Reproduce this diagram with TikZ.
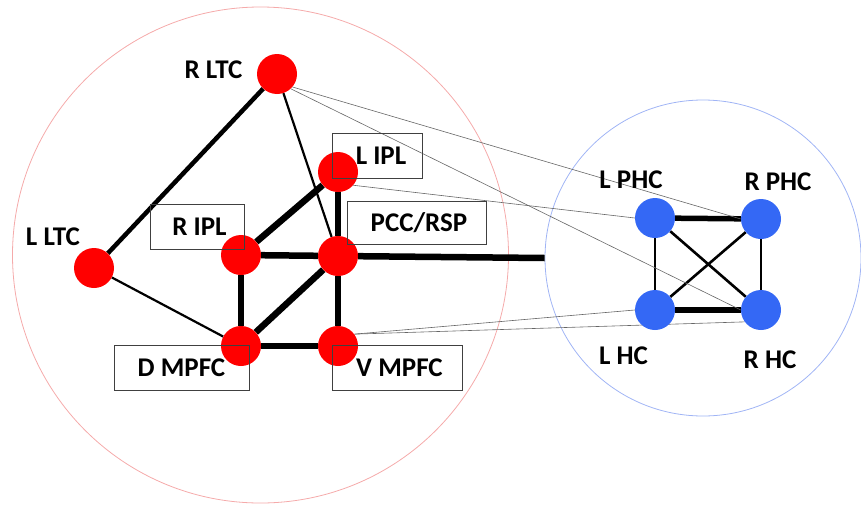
\documentclass[tikz,border=0pt]{standalone}
\usepackage{fontspec}
\setmainfont{Carlito}
\pgfdeclarelayer{back}
\pgfdeclarelayer{edges}
\pgfdeclarelayer{front}
\pgfsetlayers{back,edges,main,front}
\definecolor{dmnred}{RGB}{255,0,0}
\definecolor{mtlblue}{RGB}{52,104,245}
\definecolor{ringred}{RGB}{245,170,170}
\definecolor{ringblue}{RGB}{160,180,245}

\begin{document}
\begin{tikzpicture}[x=1pt,y=-1pt,
  hubred/.style={circle,fill=dmnred,minimum size=40pt,inner sep=0pt},
  hubblue/.style={circle,fill=mtlblue,minimum size=40pt,inner sep=0pt},
  lbl/.style={font=\bfseries\fontsize{27}{27}\selectfont,inner sep=0pt,
              text height=17.4pt,text depth=0pt},
  lblbox/.style={lbl,draw=black!75,line width=0.9pt},
  ring/.style={circle,line width=0.8pt,inner sep=0pt},
  strong/.style={line width=6.5pt},
  solid link/.style={line width=4.5pt},
  medium/.style={line width=2.2pt},
  faint/.style={line width=0.6pt,draw=black!60},
  bluestrong/.style={line width=5.5pt},
  bluemedium/.style={line width=2.6pt},
]
\useasboundingbox (0,0) rectangle (861,506);

% the two network circles
\begin{pgfonlayer}{back}
  \node[ring,draw=ringred,minimum size=496pt] (dmn) at (260.5,255) {};
  \node[ring,draw=ringblue,minimum size=316pt] (mtl) at (703,258) {};
\end{pgfonlayer}

% default-mode regions
\node[hubred] (rltc)  at (277,74)  {};
\node[hubred] (lltc)  at (94,268)  {};
\node[hubred] (lipl)  at (338,172) {};
\node[hubred] (ripl)  at (241,255) {};
\node[hubred] (pcc)   at (338,256) {};
\node[hubred] (dmpfc) at (241,346) {};
\node[hubred] (vmpfc) at (338,346) {};

% medial temporal regions
\node[hubblue] (lphc) at (655,218) {};
\node[hubblue] (rphc) at (761,219) {};
\node[hubblue] (lhc)  at (655,310) {};
\node[hubblue] (rhc)  at (761,310) {};

% connections
\begin{pgfonlayer}{edges}
  \draw[solid link] (rltc) -- (lltc);
  \draw[medium] (rltc) -- (pcc);
  \draw[medium] (lltc) -- (dmpfc);
  \draw[strong] (lipl) -- (ripl);
  \draw[strong] (lipl) -- (pcc);
  \draw[strong] (ripl) -- (pcc);
  \draw[strong] (ripl) -- (dmpfc);
  \draw[strong] (pcc) -- (dmpfc);
  \draw[strong] (pcc) -- (vmpfc);
  \draw[strong] (dmpfc) -- (vmpfc);
  \draw[strong] (pcc) -- (mtl.west);

  \draw[bluestrong] (lphc) -- (rphc);
  \draw[bluestrong] (lhc) -- (rhc);
  \draw[bluemedium] (lphc) -- (lhc);
  \draw[bluemedium] (rphc) -- (rhc);
  \draw[bluemedium] (lphc) -- (rhc);
  \draw[bluemedium] (rphc) -- (lhc);

  \draw[faint] (rltc.-40) -- (rphc.west);
  \draw[faint] (rltc.-47) -- (rhc.west);
  \draw[faint] (lipl.-41) -- (lphc.west);
  \draw[faint] (vmpfc.36) -- (lhc.west);
  \draw[faint] (vmpfc.36) -- (rhc.-144);
\end{pgfonlayer}

% plain labels
\node[lbl] (rltclbl) at (213.5,70) {R LTC};
\node[lbl] (lltclbl) at (53,237)   {L LTC};
\node[lbl] (lphclbl) at (631,180)  {L PHC};
\node[lbl] (rphclbl) at (778,182)  {R PHC};
\node[lbl] (lhclbl)  at (623.5,356) {L HC};
\node[lbl] (rhclbl)  at (770,360)  {R HC};

% boxed labels, drawn over the regions
\begin{pgfonlayer}{front}
  \node[lblbox,minimum width=90pt,minimum height=45pt]  (liplbox)  at (377,155.5) {\hspace*{8pt}L IPL};
  \node[lblbox,minimum width=94pt,minimum height=45pt]  (riplbox)  at (197,226.5) {\hspace*{5pt}R IPL};
  \node[lblbox,minimum width=139pt,minimum height=43pt] (pccbox)   at (416.5,222.5) {\hspace*{5pt}PCC/RSP};
  \node[lblbox,minimum width=135pt,minimum height=45pt] (dmpfcbox) at (181.5,367.5) {D MPFC};
  \node[lblbox,minimum width=130pt,minimum height=45pt] (vmpfcbox) at (397,367.5) {\hspace*{5pt}V MPFC};
\end{pgfonlayer}
\end{tikzpicture}
\end{document}
